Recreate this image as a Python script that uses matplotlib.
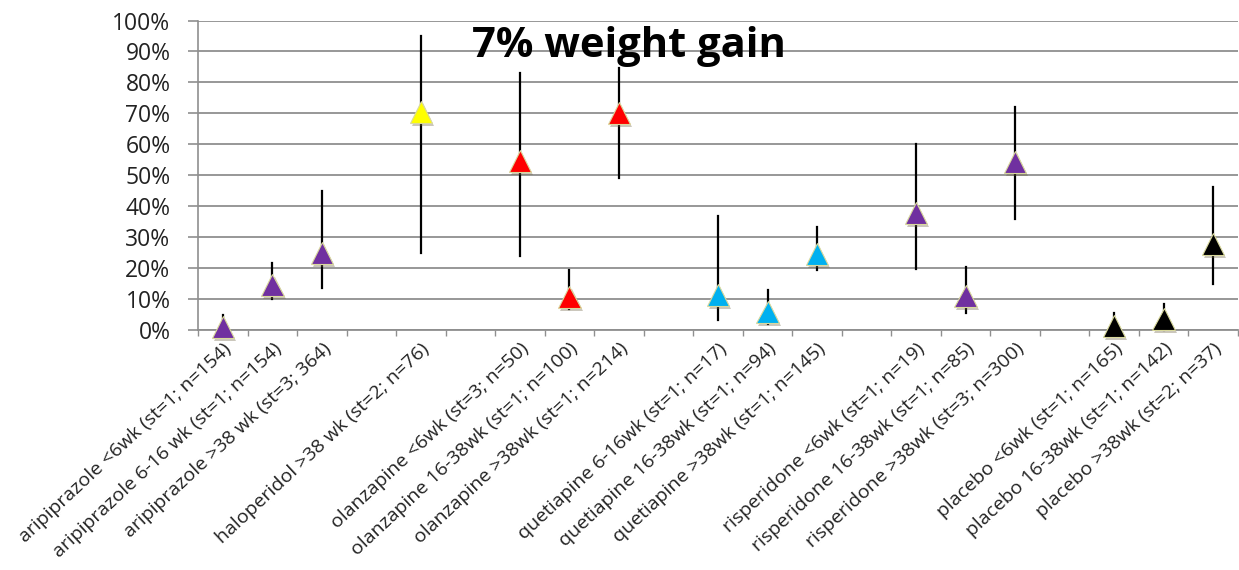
import numpy as np
import matplotlib.pyplot as plt
import matplotlib.patheffects as pe

# categories (empty slots between drug groups are kept as gaps)
labels = ['aripiprazole <6wk (st=1; n=154)',
          'aripiprazole 6-16 wk (st=1; n=154)',
          'aripiprazole >38 wk (st=3; 364)',
          'haloperidol >38 wk (st=2; n=76)',
          'olanzapine <6wk (st=3; n=50)',
          'olanzapine 16-38wk (st=1; n=100)',
          'olanzapine >38wk (st=1; n=214)',
          'quetiapine 6-16wk (st=1; n=17)',
          'quetiapine 16-38wk (st=1; n=94)',
          'quetiapine >38wk (st=1; n=145)',
          'risperidone <6wk (st=1; n=19)',
          'risperidone 16-38wk (st=1; n=85)',
          'risperidone >38wk (st=3; n=300)',
          'placebo <6wk (st=1; n=165)',
          'placebo 16-38wk (st=1; n=142)',
          'placebo >38wk (st=2; n=37)']
slots = [0, 1, 2, 4, 6, 7, 8, 10, 11, 12, 14, 15, 16, 18, 19, 20]

# proportion with 7% weight gain, and its interval
values = [0.01, 0.145, 0.25, 0.705, 0.545, 0.107, 0.70, 0.113, 0.058, 0.245,
          0.378, 0.11, 0.544, 0.012, 0.035, 0.278]
lower = [0.0, 0.10, 0.135, 0.25, 0.24, 0.068, 0.49, 0.032, 0.02, 0.194,
         0.196, 0.054, 0.36, 0.0, 0.0, 0.15]
upper = [0.05, 0.215, 0.45, 0.95, 0.83, 0.194, 0.848, 0.37, 0.13, 0.334,
         0.60, 0.205, 0.72, 0.055, 0.084, 0.463]
colors = ['#7030A0', '#7030A0', '#7030A0', '#FFFF00', '#FF0000', '#FF0000',
          '#FF0000', '#00B0F0', '#00B0F0', '#00B0F0', '#7030A0', '#7030A0',
          '#7030A0', '#000000', '#000000', '#000000']

plt.rcParams['font.family'] = ['Open Sans', 'DejaVu Sans']

fig = plt.figure(figsize=(12.39, 5.70), dpi=100)
ax = fig.add_axes([0.16, 0.421, 0.839, 0.543])

# error bars
for x, lo, hi in zip(slots, lower, upper):
    ax.plot([x, x], [lo, hi], color='black', lw=1.6, zorder=3, clip_on=False)

# triangles with a soft shadow
for x, v, c in zip(slots, values, colors):
    ax.plot(x, v, marker='^', ms=16, color=c, markeredgecolor='#d9d99c',
            markeredgewidth=0.8, zorder=4, clip_on=False,
            path_effects=[pe.SimplePatchShadow(offset=(1.5, -2), shadow_rgbFace='#6b6040', alpha=0.35),
                          pe.Normal()])

ax.set_xlim(-0.5, 20.5)
ax.set_ylim(0, 1)
ax.set_yticks(np.arange(0, 1.01, 0.1))
ax.set_yticklabels([f'{int(round(t * 100))}%' for t in np.arange(0, 1.01, 0.1)], fontsize=16.5)
ax.yaxis.grid(True, color='#8f8f8f', lw=1.3)
ax.set_axisbelow(True)
ax.tick_params(axis='y', length=7, width=1.2, color='#8f8f8f', pad=13, labelcolor='#222222')

ax.set_xticks(slots)
ax.set_xticklabels(labels, rotation=43, ha='right', rotation_mode='anchor', fontsize=14,
                   color='#222222')
ax.set_xticks(np.arange(-0.5, 20.6, 1), minor=True)
ax.tick_params(axis='x', which='major', length=0, pad=7)
ax.tick_params(axis='x', which='minor', length=4, width=1.0, color='#8f8f8f')

for s in ['top', 'right']:
    ax.spines[s].set_visible(False)
ax.spines['left'].set_color('#8f8f8f')
ax.spines['bottom'].set_color('#8f8f8f')
ax.spines['left'].set_linewidth(1.2)
ax.spines['bottom'].set_linewidth(1.3)

fig.text(0.508, 0.90, '7% weight gain', fontsize=30, fontweight='bold',
         ha='center', va='baseline')

fig.savefig('out.png', dpi=100)
